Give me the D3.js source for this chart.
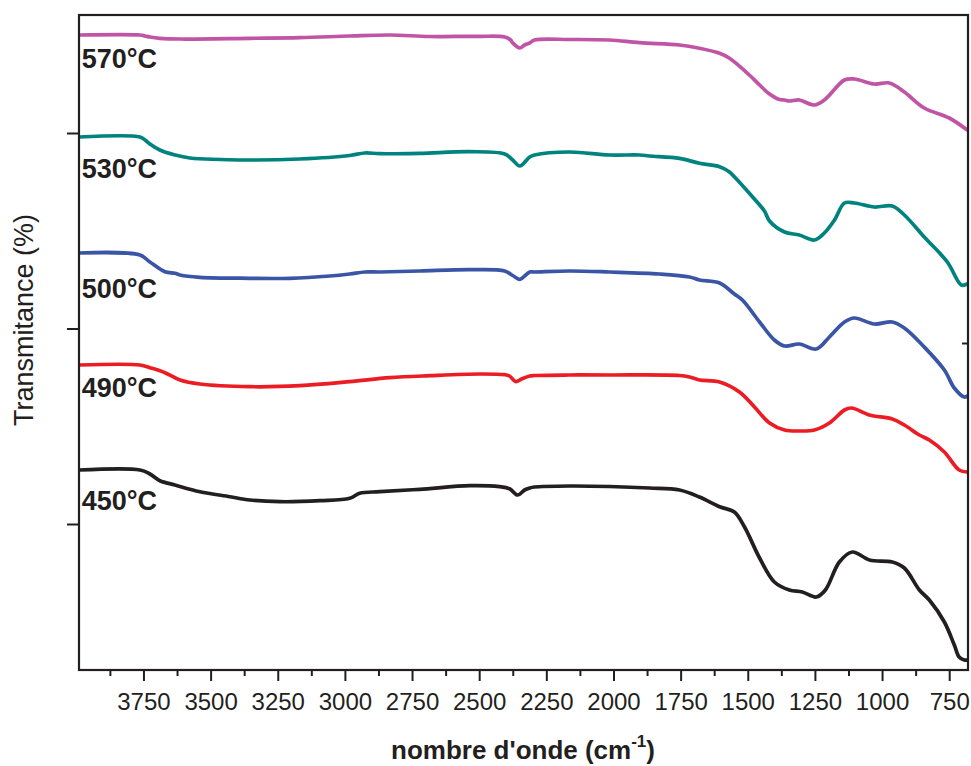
<!DOCTYPE html>
<html>
<head>
<meta charset="utf-8">
<script src="https://cdn.jsdelivr.net/npm/d3@7"></script>
<style>
  html, body { margin: 0; padding: 0; background: #ffffff; }
  svg { display: block; }
</style>
</head>
<body>
<div id="chart"></div>
<script>
// ---------- DATA ----------
const seriesNames = ["570°C", "530°C", "500°C", "490°C", "450°C"];

const wn570 = [3990, 3763, 3744, 3726, 3689, 3614, 3354, 3168, 2982, 2833, 2684, 2498, 2405, 2383, 2375, 2349, 2331, 2312, 2294, 2163, 2015, 1903, 1754, 1680, 1605, 1568, 1494, 1456, 1419, 1382, 1363, 1345, 1308, 1252, 1215, 1140, 1103, 1029, 973, 917, 843, 750, 683];
const t570  = [63.5, 63.5, 63.4, 63.3, 63.17, 63.1, 63.17, 63.23, 63.4, 63.5, 63.35, 63.37, 63.3, 63.0, 62.7, 62.2, 62.5, 62.7, 63.0, 63.05, 63.0, 62.73, 62.5, 62.17, 61.67, 61.17, 59.5, 58.5, 57.6, 57.05, 57.0, 56.9, 57.0, 56.5, 57.0, 59.0, 59.1, 58.6, 58.7, 57.8, 56.2, 55.2, 54.0];

const wn530 = [3990, 3763, 3744, 3726, 3689, 3633, 3577, 3354, 3168, 2982, 2926, 2870, 2721, 2535, 2405, 2375, 2349, 2312, 2294, 2163, 2015, 1903, 1866, 1754, 1680, 1605, 1568, 1550, 1494, 1438, 1419, 1363, 1308, 1252, 1215, 1177, 1140, 1103, 1029, 962, 917, 843, 757, 705, 683];
const t530  = [53.3, 53.3, 53.0, 52.6, 52.0, 51.5, 51.2, 51.0, 51.1, 51.45, 51.7, 51.63, 51.67, 51.83, 51.6, 51.0, 50.4, 51.3, 51.5, 51.8, 51.5, 51.5, 51.4, 51.17, 50.67, 50.33, 49.8, 49.33, 47.67, 45.9, 44.9, 43.8, 43.5, 43.0, 43.7, 45.0, 46.7, 46.7, 46.3, 46.4, 45.5, 43.3, 40.8, 38.5, 38.6];

const wn500 = [3990, 3763, 3726, 3670, 3633, 3614, 3540, 3354, 3205, 3056, 2982, 2926, 2870, 2721, 2535, 2405, 2375, 2349, 2312, 2294, 2163, 2015, 1829, 1717, 1680, 1605, 1550, 1520, 1456, 1401, 1363, 1308, 1245, 1196, 1140, 1103, 1029, 962, 917, 843, 768, 731, 694, 683];
const t500  = [41.7, 41.5, 40.8, 39.83, 39.67, 39.5, 39.27, 39.17, 39.17, 39.4, 39.6, 39.8, 39.8, 39.9, 40.03, 39.9, 39.45, 39.07, 39.8, 39.8, 39.9, 39.8, 39.6, 39.3, 39.0, 38.7, 37.6, 37.0, 34.8, 33.0, 32.4, 32.6, 32.1, 33.3, 34.8, 35.2, 34.6, 34.8, 34.2, 32.3, 30.0, 28.2, 27.3, 27.4];

const wn490 = [3990, 3763, 3726, 3670, 3614, 3540, 3354, 3168, 2982, 2833, 2684, 2498, 2405, 2387, 2364, 2342, 2312, 2294, 2163, 2015, 1754, 1717, 1680, 1605, 1531, 1475, 1419, 1363, 1308, 1252, 1196, 1140, 1114, 1047, 962, 917, 861, 824, 768, 713, 683];
const t490  = [30.5, 30.5, 30.23, 29.73, 29.0, 28.6, 28.33, 28.43, 28.83, 29.23, 29.43, 29.6, 29.53, 29.4, 28.83, 29.1, 29.4, 29.45, 29.5, 29.5, 29.45, 29.3, 29.0, 28.8, 27.8, 26.3, 24.7, 24.0, 23.9, 24.0, 24.7, 26.0, 26.2, 25.5, 25.1, 24.5, 23.5, 23.0, 21.8, 20.0, 19.8];

const wn450 = [3990, 3763, 3726, 3689, 3633, 3540, 3428, 3354, 3242, 3093, 2982, 2945, 2870, 2721, 2535, 2424, 2387, 2357, 2331, 2312, 2294, 2163, 2015, 1866, 1754, 1680, 1605, 1550, 1512, 1456, 1401, 1345, 1297, 1245, 1211, 1159, 1111, 1047, 962, 917, 861, 824, 768, 731, 713, 694, 683];
const t450  = [20.0, 20.0, 19.6, 18.93, 18.5, 17.83, 17.33, 17.0, 16.83, 16.93, 17.17, 17.67, 17.83, 18.07, 18.43, 18.33, 18.13, 17.5, 18.0, 18.2, 18.3, 18.4, 18.35, 18.2, 18.0, 17.3, 16.33, 15.8, 14.3, 11.2, 8.8, 8.0, 7.8, 7.3, 8.0, 10.8, 11.8, 11.0, 10.8, 10.2, 8.0, 7.0, 4.8, 2.5, 1.3, 1.0, 1.0];

const xTickValues = [3750, 3500, 3250, 3000, 2750, 2500, 2250, 2000, 1750, 1500, 1250, 1000, 750];
const xMinorTickValues = [3875, 3625, 3375, 3125, 2875, 2625, 2375, 2125, 1875, 1625, 1375, 1125, 875];
const yLeftTicks = [14.6, 34.15, 53.7];
const yRightTicks = [32.7];
const labelValues = [60.2, 49.2, 37.2, 27.3, 16.0];
const xDomain = [3990, 680];
const yDomain = [0, 65.5];

const xTitle = "nombre d'onde (cm";
const xTitleSup = "-1";
const yTitle = "Transmitance (%)";

// ---------- LAYOUT ----------
const W = 971, H = 766;
const L = 79, R = 968, T = 15, B = 670;
const colors = ["#c055a5", "#00827f", "#3a55a6", "#ec1c24", "#231f20"];
const ink = "#231f20";

const svg = d3.select("#chart").append("svg").attr("width", W).attr("height", H);

const x = d3.scaleLinear().domain(xDomain).range([L, R]);
const y = d3.scaleLinear().domain(yDomain).range([B, T]);

const series = [
  {name: seriesNames[0], wn: wn570, t: t570},
  {name: seriesNames[1], wn: wn530, t: t530},
  {name: seriesNames[2], wn: wn500, t: t500},
  {name: seriesNames[3], wn: wn490, t: t490},
  {name: seriesNames[4], wn: wn450, t: t450}
];

// clip
svg.append("clipPath").attr("id", "clip").append("rect")
  .attr("x", L).attr("y", T).attr("width", R - L).attr("height", B - T);

const line = d3.line()
  .x(d => x(d[0]))
  .y(d => y(d[1]))
  .curve(d3.curveCatmullRom.alpha(0.5));

const gLines = svg.append("g").attr("clip-path", "url(#clip)");
series.forEach((s, i) => {
  const pts = s.wn.map((w, k) => [w, s.t[k]]);
  gLines.append("path")
    .datum(pts)
    .attr("d", line)
    .attr("fill", "none")
    .attr("stroke", colors[i])
    .attr("stroke-width", 3.7)
    .attr("stroke-linejoin", "round")
    .attr("stroke-linecap", "round");
});

// bottom axis (major)
const axB = svg.append("g").attr("transform", `translate(0,${B})`)
  .call(d3.axisBottom(x).tickValues(xTickValues).tickSizeInner(11).tickSizeOuter(0).tickPadding(12).tickFormat(d3.format("d")));
axB.select(".domain").remove();
axB.selectAll("line").attr("stroke", ink).attr("stroke-width", 2);
axB.selectAll("text").attr("font-family", "'Liberation Sans', Arial, sans-serif").attr("font-size", 24).attr("fill", ink);

// bottom axis (minor)
const axBm = svg.append("g").attr("transform", `translate(0,${B})`)
  .call(d3.axisBottom(x).tickValues(xMinorTickValues).tickSizeInner(6).tickSizeOuter(0).tickFormat(""));
axBm.select(".domain").remove();
axBm.selectAll("line").attr("stroke", ink).attr("stroke-width", 2);

// left axis
const axL = svg.append("g").attr("transform", `translate(${L},0)`)
  .call(d3.axisLeft(y).tickValues(yLeftTicks).tickSizeInner(12).tickSizeOuter(0).tickFormat(""));
axL.select(".domain").remove();
axL.selectAll("line").attr("stroke", ink).attr("stroke-width", 2);

// right axis (inner ticks)
const axR = svg.append("g").attr("transform", `translate(${R},0)`)
  .call(d3.axisRight(y).tickValues(yRightTicks).tickSizeInner(-6).tickSizeOuter(0).tickFormat(""));
axR.select(".domain").remove();
axR.selectAll("line").attr("stroke", ink).attr("stroke-width", 2);

// frame
svg.append("rect")
  .attr("x", L).attr("y", T).attr("width", R - L).attr("height", B - T)
  .attr("fill", "none").attr("stroke", ink).attr("stroke-width", 2.2);

// series labels
series.forEach((s, i) => {
  svg.append("text")
    .attr("x", x(3980))
    .attr("y", y(labelValues[i]))
    .attr("font-family", "'Liberation Sans', Arial, sans-serif")
    .attr("font-weight", "bold")
    .attr("font-size", 27)
    .attr("fill", ink)
    .text(s.name);
});

// x title
const xt = svg.append("text")
  .attr("x", 523).attr("y", 759)
  .attr("text-anchor", "middle")
  .attr("font-family", "'Liberation Sans', Arial, sans-serif")
  .attr("font-weight", "bold")
  .attr("font-size", 26)
  .attr("fill", ink);
xt.append("tspan").text(xTitle);
xt.append("tspan").attr("font-size", 17).attr("dy", -12).text(xTitleSup);
xt.append("tspan").attr("dy", 12).text(")");

// y title
svg.append("text")
  .attr("transform", "translate(33,320) rotate(-90)")
  .attr("text-anchor", "middle")
  .attr("font-family", "'Liberation Sans', Arial, sans-serif")
  .attr("font-size", 27)
  .attr("fill", ink)
  .text(yTitle);
</script>
</body>
</html>
